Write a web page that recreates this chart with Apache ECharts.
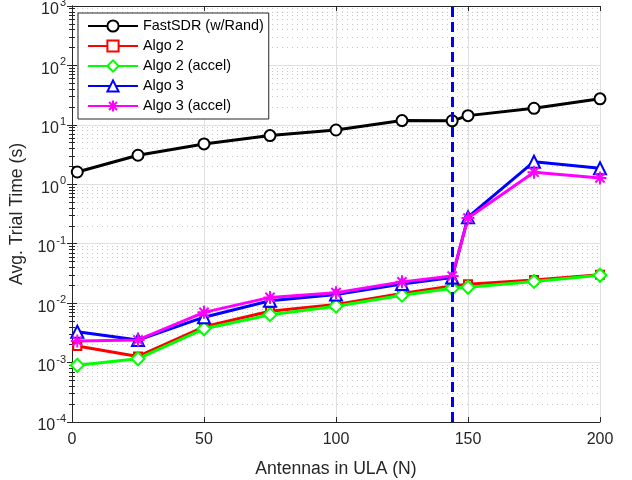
<!DOCTYPE html>
<html>
<head>
<meta charset="utf-8">
<script src="https://cdn.jsdelivr.net/npm/echarts@6/dist/echarts.min.js"></script>
<style>
  html, body { margin: 0; padding: 0; background: #fff; }
  #chart { width: 632px; height: 480px; }
</style>
</head>
<body>
<div id="chart"></div>
<script>
// antenna counts (x) shared by all curves
const antennas = [2, 25, 50, 75, 100, 125, 144, 150, 175, 200];
const fastSDR = [1.61, 3.08, 4.78, 6.6, 8.2, 11.8, 11.7, 14.3, 19.0, 27.4];
const algo2 = [0.0019, 0.00127, 0.0040, 0.0073, 0.0095, 0.0145, 0.0195, 0.0208, 0.0245, 0.030];
const algo2Accel = [0.0009, 0.00116, 0.0037, 0.0064, 0.0089, 0.0136, 0.0178, 0.0185, 0.0232, 0.0295];
const algo3 = [0.0033, 0.0024, 0.0058, 0.0110, 0.0140, 0.021, 0.027, 0.28, 2.4, 1.86];
const algo3Accel = [0.0023, 0.0024, 0.0070, 0.0125, 0.0150, 0.0228, 0.0285, 0.27, 1.6, 1.28];
const cutoffN = 144;

const FONT = "Liberation Sans";
const AXIS_COLOR = "#262626";
const asterisk = "path://M0,-10L0,10M-10,0L10,0M-7.1,-7.1L7.1,7.1M-7.1,7.1L7.1,-7.1";

const pairs = (ys) => antennas.map((x, i) => [x, ys[i]]);

const mkSeries = (name, ys, color, symbol, size) => ({
  name: name,
  type: "line",
  data: pairs(ys),
  symbol: symbol,
  symbolSize: size,
  lineStyle: { color: color, width: 3 },
  itemStyle: { color: color, borderColor: color, borderWidth: 2 },
  emphasis: { disabled: true },
});

const chart = echarts.init(document.getElementById("chart"));

const yLabel = {
  fontFamily: FONT,
  color: AXIS_COLOR,
  margin: 6,
  formatter: (v) => "{b|10}{s|" + Math.round(Math.log10(v)) + "}",
  rich: {
    b: { fontSize: 16, fontFamily: FONT, color: AXIS_COLOR, padding: [8, 0, 0, 0] },
    s: { fontSize: 11, fontFamily: FONT, color: AXIS_COLOR, padding: [0, 0, 6, 1] },
  },
};

const option = {
  animation: false,
  backgroundColor: "#fff",
  grid: { left: 72, right: 32, top: 6, bottom: 58, containLabel: false, outerBoundsMode: "none" },
  legend: {
    orient: "vertical",
    left: 78,
    top: 13,
    itemWidth: 50,
    itemHeight: 14,
    itemGap: 6,
    padding: [6, 5, 6, 9],
    borderColor: AXIS_COLOR,
    borderWidth: 1,
    backgroundColor: "#fff",
    textStyle: { fontFamily: FONT, fontSize: 14.4, color: "#000" },
    data: ["FastSDR (w/Rand)", "Algo 2", "Algo 2 (accel)", "Algo 3", "Algo 3 (accel)"],
  },
  xAxis: [
    {
      type: "value",
      min: 0,
      max: 200,
      interval: 50,
      name: "Antennas in ULA (N)",
      nameLocation: "middle",
      nameGap: 38,
      nameTextStyle: { fontFamily: FONT, fontSize: 17.6, color: AXIS_COLOR },
      axisLine: { lineStyle: { color: AXIS_COLOR } },
      axisTick: { inside: true, length: 5, lineStyle: { color: AXIS_COLOR } },
      axisLabel: { fontFamily: FONT, fontSize: 16, color: AXIS_COLOR, margin: 10 },
      splitLine: { show: true, lineStyle: { color: "#dfdfdf" } },
    },
    {
      type: "value",
      position: "top",
      min: 0,
      max: 200,
      interval: 50,
      axisLine: { show: true, lineStyle: { color: AXIS_COLOR } },
      axisTick: { inside: true, length: 5, lineStyle: { color: AXIS_COLOR } },
      axisLabel: { show: false },
      splitLine: { show: false },
    },
  ],
  yAxis: [
    {
      type: "log",
      logBase: 10,
      min: 0.0001,
      max: 1000,
      interval: 1,
      name: "Avg. Trial Time (s)",
      nameLocation: "middle",
      nameGap: 40,
      nameTextStyle: { fontFamily: FONT, fontSize: 17.6, color: AXIS_COLOR },
      axisLine: { show: true, lineStyle: { color: AXIS_COLOR } },
      axisTick: { inside: true, length: 5, lineStyle: { color: AXIS_COLOR } },
      minorTick: { show: true, splitNumber: 9, length: 3, lineStyle: { color: AXIS_COLOR } },
      axisLabel: yLabel,
      splitLine: { show: true, lineStyle: { color: "#dfdfdf" } },
      minorSplitLine: { show: true, lineStyle: { color: "#c4c4c4", type: [1, 4] } },
    },
    {
      type: "log",
      logBase: 10,
      min: 0.0001,
      max: 1000,
      interval: 1,
      position: "right",
      axisLine: { show: true, lineStyle: { color: AXIS_COLOR } },
      axisTick: { inside: true, length: 5, lineStyle: { color: AXIS_COLOR } },
      minorTick: { show: true, splitNumber: 9, length: 3, lineStyle: { color: AXIS_COLOR } },
      axisLabel: { show: false },
      splitLine: { show: false },
    },
  ],
  series: [
    Object.assign(mkSeries("FastSDR (w/Rand)", fastSDR, "#000000", "emptyCircle", 11), {
      markLine: {
        silent: true,
        symbol: "none",
        label: { show: false },
        lineStyle: { color: "#0000ff", width: 3, type: [10, 5] },
        data: [{ xAxis: cutoffN }],
      },
    }),
    mkSeries("Algo 2", algo2, "#ff0000", "emptyRect", 8),
    mkSeries("Algo 2 (accel)", algo2Accel, "#00ff00", "emptyDiamond", 13),
    mkSeries("Algo 3", algo3, "#0000ff", "emptyTriangle", 12),
    mkSeries("Algo 3 (accel)", algo3Accel, "#ff00ff", asterisk, 13),
  ],
};

chart.setOption(option);
</script>
</body>
</html>
